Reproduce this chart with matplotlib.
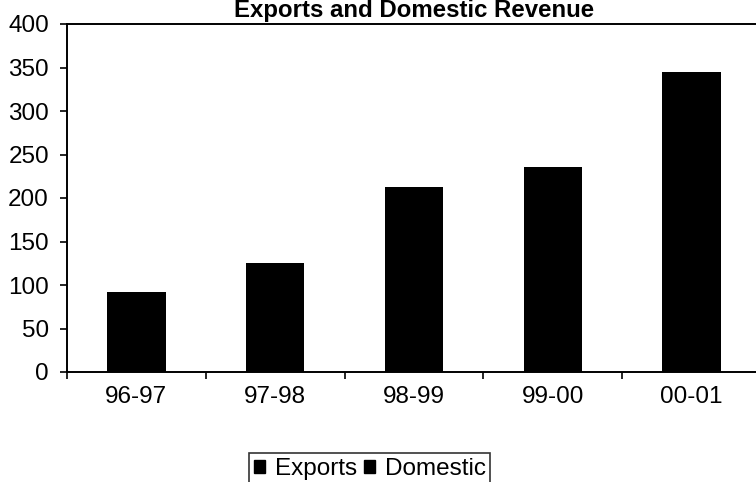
import matplotlib
matplotlib.use("Agg")
import matplotlib.pyplot as plt
from matplotlib.patches import Patch

categories = ["96-97", "97-98", "98-99", "99-00", "00-01"]
exports = [92, 125, 213, 236, 345]
domestic = [0, 0, 0, 0, 0]
series_names = ["Exports", "Domestic"]
title = "Exports and Domestic Revenue"
yticks = [0, 50, 100, 150, 200, 250, 300, 350, 400]

plt.rcParams['font.family'] = ['Liberation Sans', 'DejaVu Sans']

W, H = 756, 482
fig = plt.figure(figsize=(W / 100, H / 100), dpi=100)
ax = fig.add_axes([67 / W, 1 - 372 / H, (761 - 67) / W, (372 - 24) / H])

x = list(range(len(categories)))
ax.bar(x, exports, width=0.42, color="black", zorder=3)

ax.set_xlim(-0.5, len(categories) - 0.5)
ax.set_ylim(0, 400)
ax.set_yticks(yticks)
ax.set_yticklabels([str(v) for v in yticks])

ax.set_xticks([i - 0.5 for i in range(len(categories) + 1)])
ax.set_xticklabels([])
ax.set_xticks(x, minor=True)
ax.set_xticklabels(categories, minor=True)
ax.tick_params(axis="x", which="minor", length=0, pad=10, labelsize=17.5)
ax.tick_params(axis="x", which="major", length=5, width=1.2, direction="out")
ax.tick_params(axis="y", length=5, width=1.2, direction="out", pad=8, labelsize=17.5)

for s in ["left", "bottom", "top"]:
    ax.spines[s].set_linewidth(1.4)
ax.spines["right"].set_visible(False)

fig.text(414 / W, 1 - 17 / H, title, ha="center", va="baseline",
         fontsize=17.3, fontweight="bold")

handles = [Patch(facecolor="black", edgecolor="black") for _ in series_names]
leg = fig.legend(handles, series_names, loc="upper left",
                 bbox_to_anchor=(249 / W, 1 - 453 / H), ncol=2, fontsize=17.5,
                 frameon=True, fancybox=False, edgecolor="black",
                 handlelength=0.45, handleheight=0.45, handletextpad=0.4,
                 columnspacing=0.3, borderpad=0.2, borderaxespad=0)
leg.get_frame().set_linewidth(1.2)

fig.savefig("out.png", dpi=100)
